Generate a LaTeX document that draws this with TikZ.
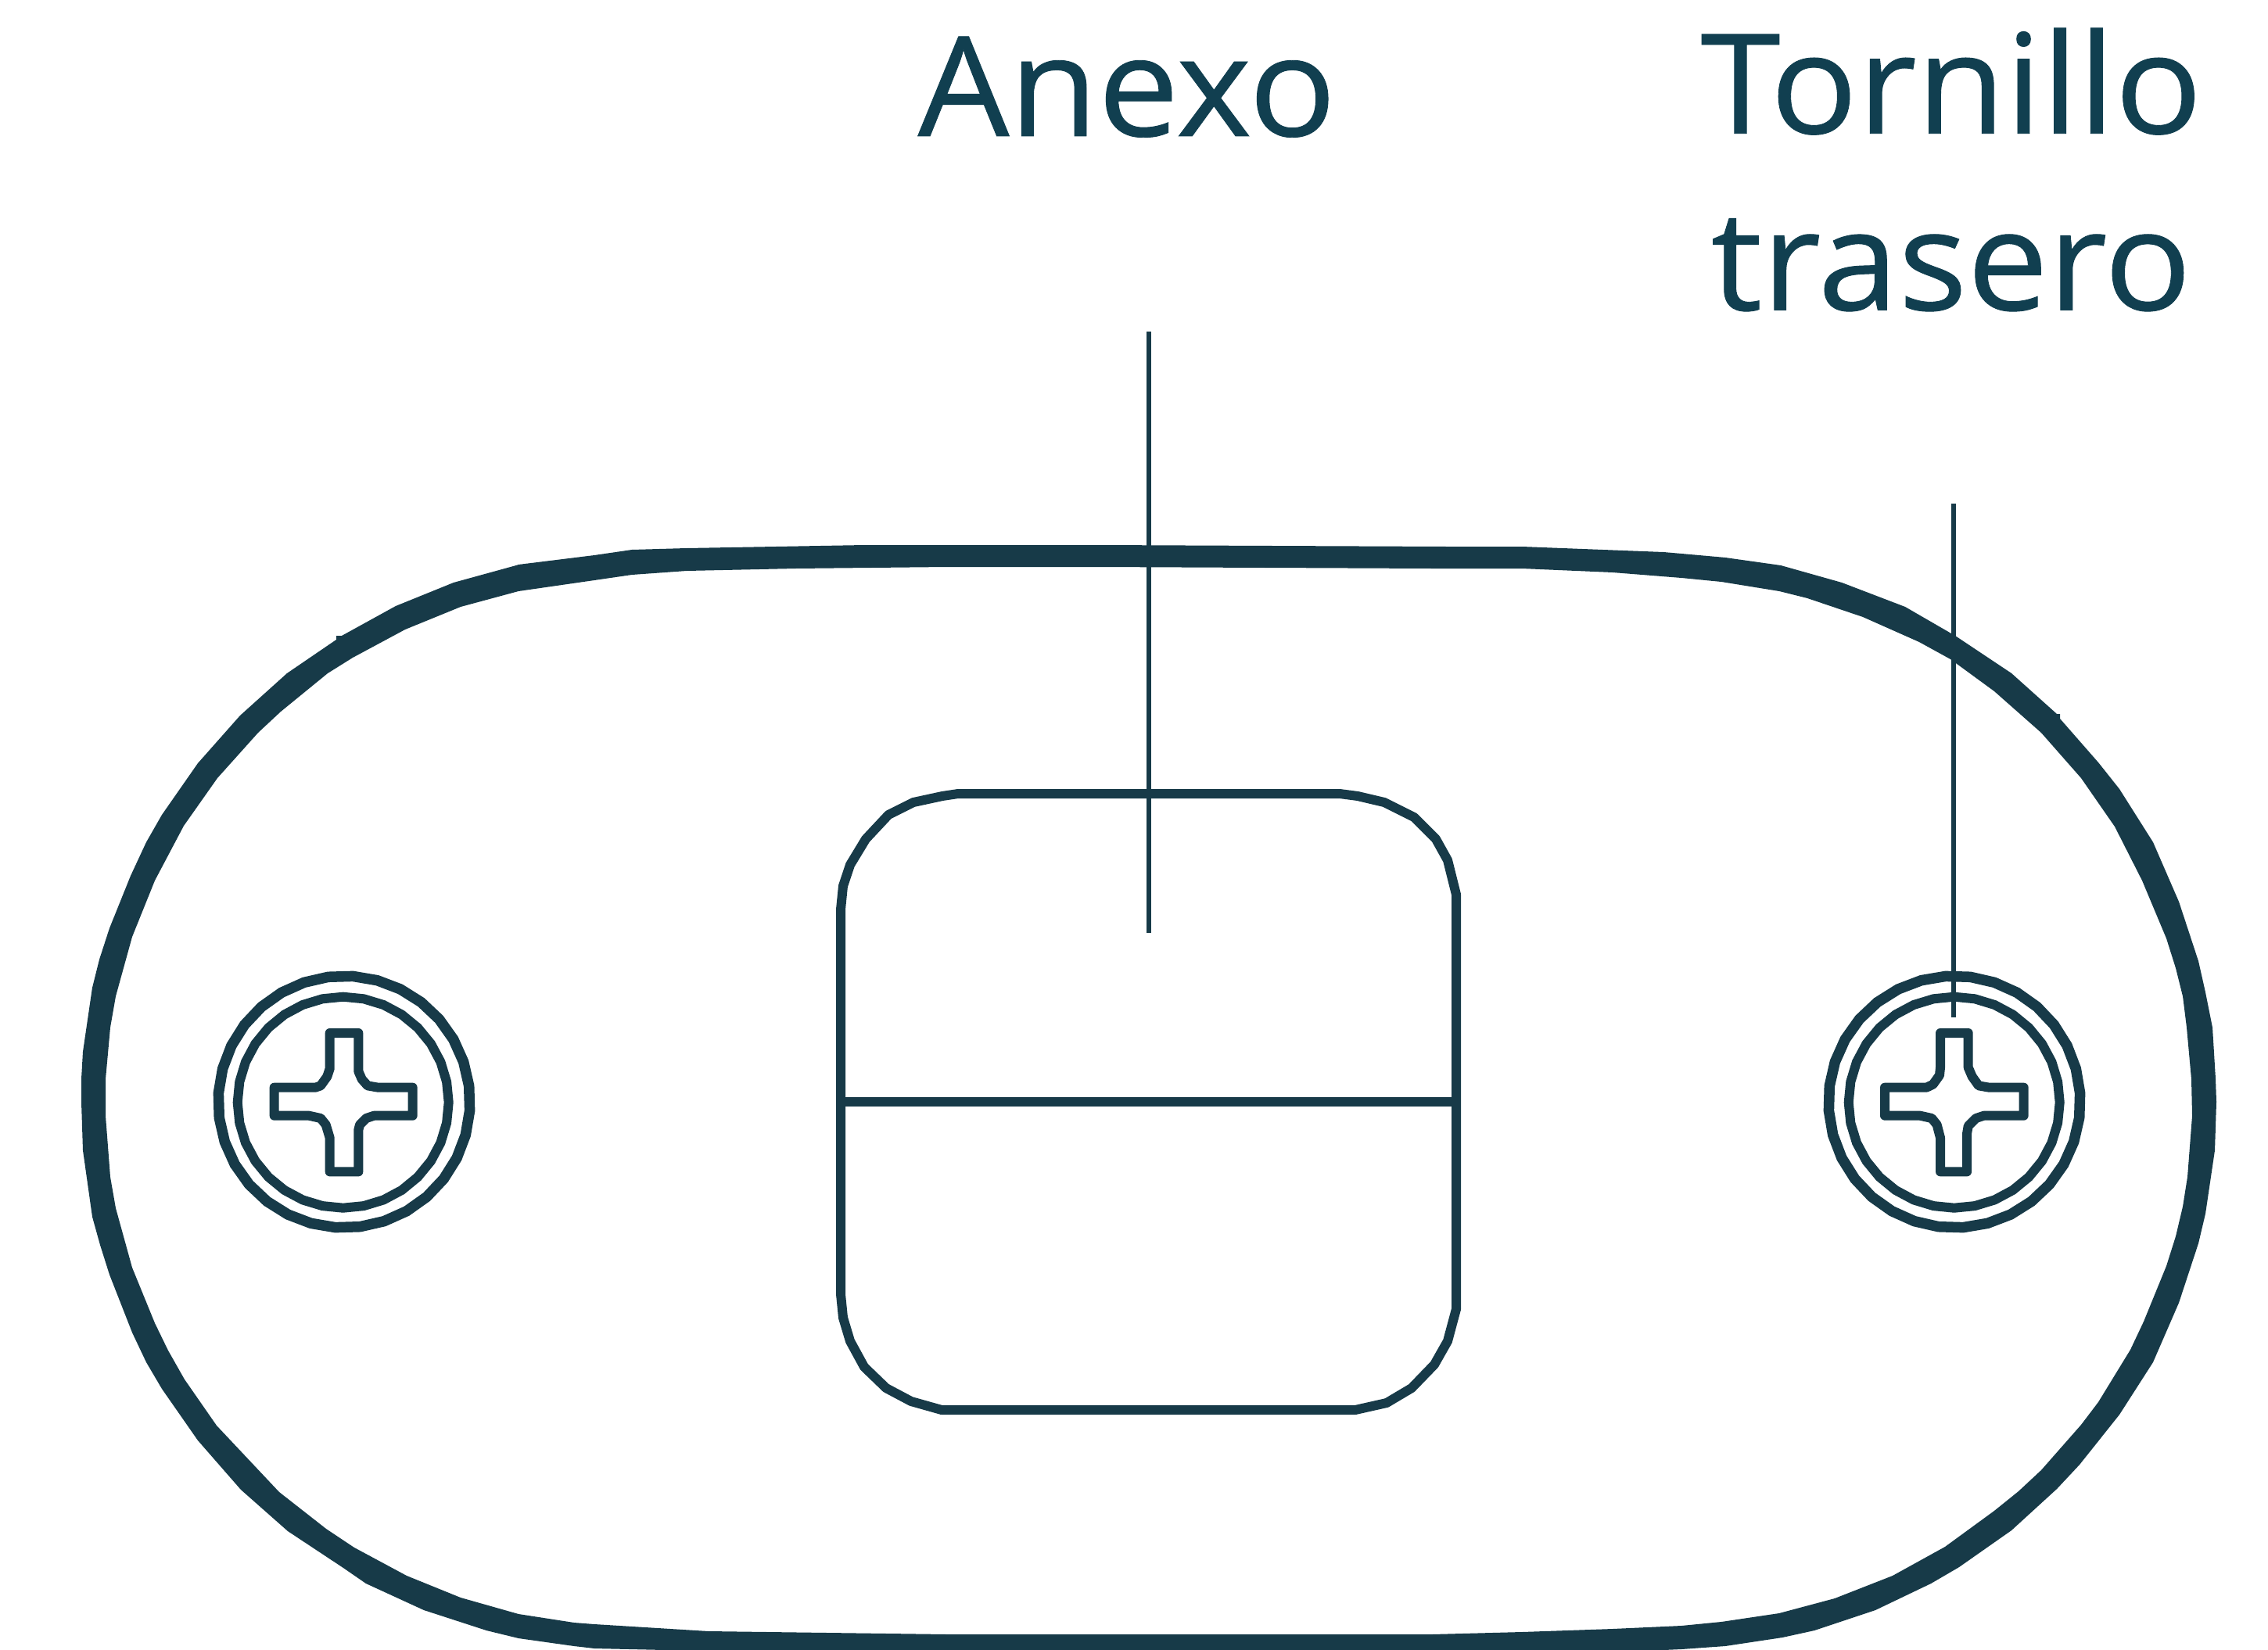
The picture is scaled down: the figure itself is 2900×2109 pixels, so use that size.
\documentclass[tikz,border=0pt]{standalone}
\usepackage{fontspec}
\setmainfont{Open Sans}
\newfontfamily\labelfont{Open Sans}[FakeStretch=1.04,FakeBold=0.5]
\definecolor{linecol}{HTML}{173A48}
\definecolor{textcol}{HTML}{113F50}
\tikzset{
  px/.style={x=0.01cm,y=-0.01cm},
  labeltext/.style={text=textcol,inner sep=0pt,outer sep=0pt,align=center,font=\labelfont\fontsize{50.5}{64.2}\selectfont},
  leader/.style={draw=linecol,line width=5.5*0.2845pt},
  boxline/.style={draw=linecol,line width=12*0.2845pt,line join=round},
  ringout/.style={draw=linecol,line width=13.5*0.2845pt,line join=miter},
  ringin/.style={draw=linecol,line width=12*0.2845pt,line join=miter},
  crossline/.style={draw=linecol,line width=12*0.2845pt,line join=round}
}
\begin{document}
\begin{tikzpicture}[px]
\useasboundingbox (0,0) rectangle (2900,2109);
\fill[white] (0,0) rectangle (2900,2109);
\begin{scope}
\clip (0,0) rectangle (2900,2109);
% outer body
\fill[linecol,even odd rule]
 (104,1380) -- (106,1345) -- (118,1263) -- (127,1227) -- (140,1187) -- (167,1120) -- (187,1077) -- (207,1042) -- (253,976) -- (307,915) -- (367,861) -- (430,818) -- (430,813) -- (437,813) -- (506,775) -- (580,745) -- (660,723) -- (663,722) -- (760,710) -- (808,703) -- (878,701) -- (1106,697) -- (1406,697) -- (1850,699) -- (1946,699) -- (2127,706) -- (2150,708) -- (2206,713) -- (2277,723) -- (2355,745) -- (2436,776) -- (2500,813) -- (2572,861) -- (2630,913) -- (2634,913) -- (2634,919) -- (2683,975) -- (2710,1009) -- (2753,1077) -- (2786,1153) -- (2811,1229) -- (2820,1269) -- (2829,1314) -- (2833,1380) -- (2834,1409) -- (2832,1471) -- (2820,1552) -- (2811,1590) -- (2786,1666) -- (2753,1742) -- (2710,1809) -- (2659,1873) -- (2630,1904) -- (2572,1957) -- (2505,2004) -- (2469,2025) -- (2398,2059) -- (2320,2085) -- (2279,2094) -- (2206,2105) -- (2150,2109) -- (1946,2118) -- (1211,2118) -- (760,2108) -- (734,2105) -- (663,2095) -- (622,2085) -- (542,2059) -- (468,2025) -- (439,2005) -- (368,1958) -- (308,1905) -- (253,1842) -- (207,1776) -- (187,1742) -- (169,1704) -- (140,1630) -- (128,1592) -- (118,1556) -- (106,1471) -- (104,1409) -- cycle
 (135,1380) -- (141,1314) -- (148,1274) -- (169,1198) -- (198,1126) -- (235,1056) -- (278,995) -- (330,937) -- (359,910) -- (419,861) -- (451,841) -- (518,805) -- (589,776) -- (663,756) -- (760,742) -- (808,735) -- (878,730) -- (1017,727) -- (1211,725) -- (1406,725) -- (1831,727) -- (1946,727) -- (2062,732) -- (2150,739) -- (2201,744) -- (2275,756) -- (2311,765) -- (2382,789) -- (2454,821) -- (2494,843) -- (2550,884) -- (2610,937) -- (2661,995) -- (2704,1057) -- (2739,1126) -- (2770,1200) -- (2782,1238) -- (2791,1274) -- (2796,1314) -- (2802,1380) -- (2803,1427) -- (2797,1505) -- (2791,1543) -- (2782,1581) -- (2770,1619) -- (2741,1690) -- (2724,1726) -- (2683,1793) -- (2661,1822) -- (2610,1880) -- (2581,1907) -- (2550,1932) -- (2487,1978) -- (2420,2015) -- (2346,2044) -- (2275,2063) -- (2201,2074) -- (2150,2079) -- (2062,2083) -- (1946,2087) -- (1831,2090) -- (1211,2090) -- (906,2086) -- (760,2077) -- (734,2075) -- (663,2064) -- (589,2043) -- (520,2015) -- (453,1979) -- (417,1955) -- (357,1908) -- (277,1823) -- (236,1764) -- (215,1727) -- (198,1692) -- (169,1621) -- (148,1545) -- (141,1505) -- (135,1427) -- cycle;
\end{scope}
% central piece
\draw[boxline]
 (1075,1163) -- (1078,1133) -- (1087,1106) -- (1107,1073) -- (1136,1042) -- (1168,1026) -- (1205,1018) -- (1225,1015) -- (1713,1015) -- (1736,1018) -- (1770,1026) -- (1808,1045) -- (1836,1073) -- (1851,1100) -- (1862,1144) -- (1862,1674) -- (1851,1715) -- (1834,1745) -- (1805,1775) -- (1773,1794) -- (1733,1803) -- (1204,1803) -- (1165,1792) -- (1133,1775) -- (1105,1748) -- (1087,1715) -- (1078,1685) -- (1075,1655) -- cycle;
\coordinate (midL) at (1075,1409);
\coordinate (midR) at (1862,1409);
\draw[boxline] (midL) -- (midR);
% left screw
\draw[ringout] plot[samples=32,domain=4:352.75] ({440+161*cos(\x)},{1409+161*sin(\x)}) -- cycle;
\draw[ringin] plot[samples=32,domain=0:348.75] ({438.7+135*cos(\x)},{1409.7+135*sin(\x)}) -- cycle;
\begin{scope}[shift={(240,1200)},x=0.01cm/3,y=-0.01cm/3]
\draw[crossline] (545,363) -- (655,363) -- (655,510) -- (668,540) -- (690,565) -- (730,572) -- (863,572) -- (863,680) -- (715,680) -- (685,690) -- (660,715) -- (655,735) -- (655,895) -- (545,895) -- (545,765) -- (530,715) -- (510,690) -- (465,680) -- (332,680) -- (332,572) -- (490,572) -- (510,565) -- (535,530) -- (545,500) -- cycle;
\end{scope}
% right screw
\draw[ringout] plot[samples=32,domain=-4:344.75] ({2499+161*cos(\x)},{1409+161*sin(\x)}) -- cycle;
\draw[ringin] plot[samples=32,domain=0:348.75] ({2498.7+135*cos(\x)},{1409.7+135*sin(\x)}) -- cycle;
\begin{scope}[shift={(2300,1200)},x=0.01cm/3,y=-0.01cm/3]
\draw[crossline] (543,363) -- (650,363) -- (650,495) -- (665,530) -- (690,565) -- (730,572) -- (863,572) -- (863,680) -- (710,680) -- (680,690) -- (650,720) -- (645,750) -- (645,895) -- (543,895) -- (543,765) -- (530,715) -- (510,690) -- (465,680) -- (330,680) -- (330,572) -- (490,572) -- (515,560) -- (540,525) -- (543,495) -- cycle;
\end{scope}
% labels and leaders
\node[labeltext,anchor=base] (anexo) at (1441,174) {Anexo};
\node[labeltext,anchor=center] (tornillo) at (2495,217) {Tornillo\\trasero};
\coordinate (anexoTop) at (1469,424);
\coordinate (anexoEnd) at (1469,1193);
\coordinate (tornilloTop) at (2498,644);
\coordinate (tornilloEnd) at (2498,1301);
\draw[leader] (anexoTop) -- (anexoEnd);
\draw[leader] (tornilloTop) -- (tornilloEnd);
\end{tikzpicture}
\end{document}
